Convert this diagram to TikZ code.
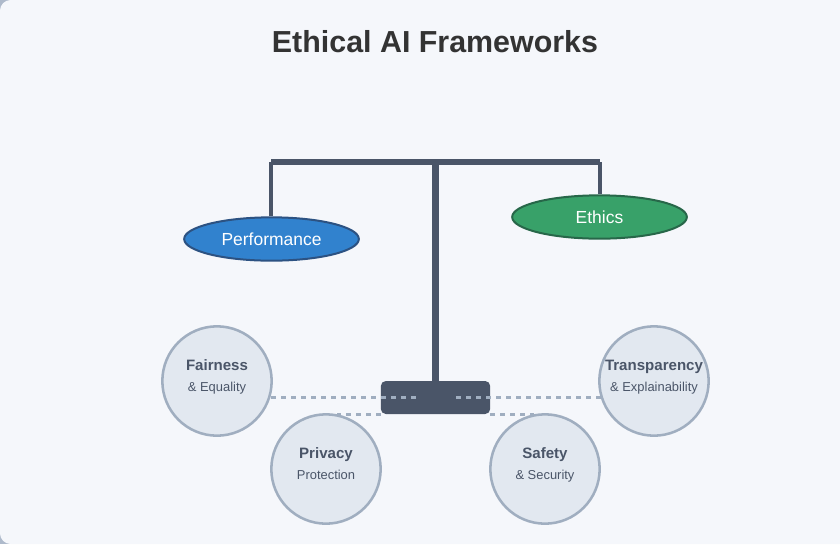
\documentclass[tikz,border=0pt]{standalone}
\usepackage{fontspec}
\setmainfont{Liberation Sans}
\usetikzlibrary{shapes.geometric,positioning}

\definecolor{pagebg}{HTML}{F5F7FB}
\definecolor{cornergrey}{HTML}{AEBACB}
\definecolor{slate}{HTML}{4A5568}
\definecolor{ink}{HTML}{333333}
\definecolor{linkgrey}{HTML}{A0AEC0}
\definecolor{circfill}{HTML}{E2E8F0}
\definecolor{perfblue}{HTML}{3182CE}
\definecolor{perfedge}{HTML}{2C5282}
\definecolor{ethgreen}{HTML}{38A169}
\definecolor{ethedge}{HTML}{276749}

\tikzset{
    pan/.style={ellipse, draw, line width=1.5pt, minimum width=131pt, minimum height=32.5pt, inner sep=0pt, text=white, font=\fontsize{13.1}{15}\selectfont},
    topic/.style={circle, draw=linkgrey, fill=circfill, line width=1.9pt, minimum size=82pt, inner sep=0pt, text=slate, align=center},
    link/.style={draw=linkgrey, line width=1.7pt, dash pattern=on 3.75pt off 3.75pt},
    arm/.style={draw=slate, line width=2.9pt},
    mast/.style={draw=slate, line width=4.7pt},
}
\newcommand{\topiclabel}[2]{{\fontsize{11.3}{13}\selectfont\bfseries #1}\\[4.2pt]{\fontsize{9.7}{11}\selectfont #2}\\[-4pt]}

\begin{document}
\begin{tikzpicture}[x=0.75pt, y=-0.75pt]
    \useasboundingbox (0,0) rectangle (840,544);
    \fill[cornergrey] (0,0) rectangle (840,544);
    \fill[pagebg, rounded corners=8pt] (0,0) rectangle (860,544);

    \node[font=\fontsize{22.8}{27}\selectfont\bfseries, text=ink] (title) at (435,42) {Ethical AI Frameworks};

    % scale
    \node[fill=slate, rounded corners=3.75pt, minimum width=82pt, minimum height=24.75pt, inner sep=0pt] (base) at (435.5,397.5) {};
    \coordinate (beamL) at (271.3,162);
    \coordinate (beamR) at (599.7,162);
    \coordinate (beamM) at (435.5,162);
    \node[pan, fill=perfblue, draw=perfedge] (perf) at (271.5,239) {Performance};
    \node[pan, fill=ethgreen, draw=ethedge] (ethics) at (599.5,217) {Ethics};
    \draw[arm] (beamL) -- (perf.north -| beamL);
    \draw[arm] (beamR) -- (ethics.north -| beamR);
    \draw[mast] (beamM) -- (base.north);
    \draw[mast] (beamL) -- (beamR);

    % topics
    \node[topic] (fair) at (217,381) {\topiclabel{Fairness}{\& Equality}};
    \node[topic] (priv) at (326,469) {\topiclabel{Privacy}{Protection}};
    \node[topic] (safe) at (545,469) {\topiclabel{Safety}{\& Security}};
    \node[topic] (trans) at (654,381) {\topiclabel{Transparency}{\& Explainability}};

    \coordinate (linkL) at (415.5,397.4);
    \coordinate (linkR) at (456,397.4);
    \coordinate (privTop) at (326,414.4);
    \coordinate (safeTop) at (545,414.4);
    \draw[link] (linkL) -- (linkL -| fair.-17);
    \draw[link] (linkR) -- (linkR -| trans.197);
    \draw[link, shorten >=8pt] (privTop -| base.west) -- (privTop);
    \draw[link, shorten >=8pt] (safeTop -| base.east) -- (safeTop);
\end{tikzpicture}
\end{document}
